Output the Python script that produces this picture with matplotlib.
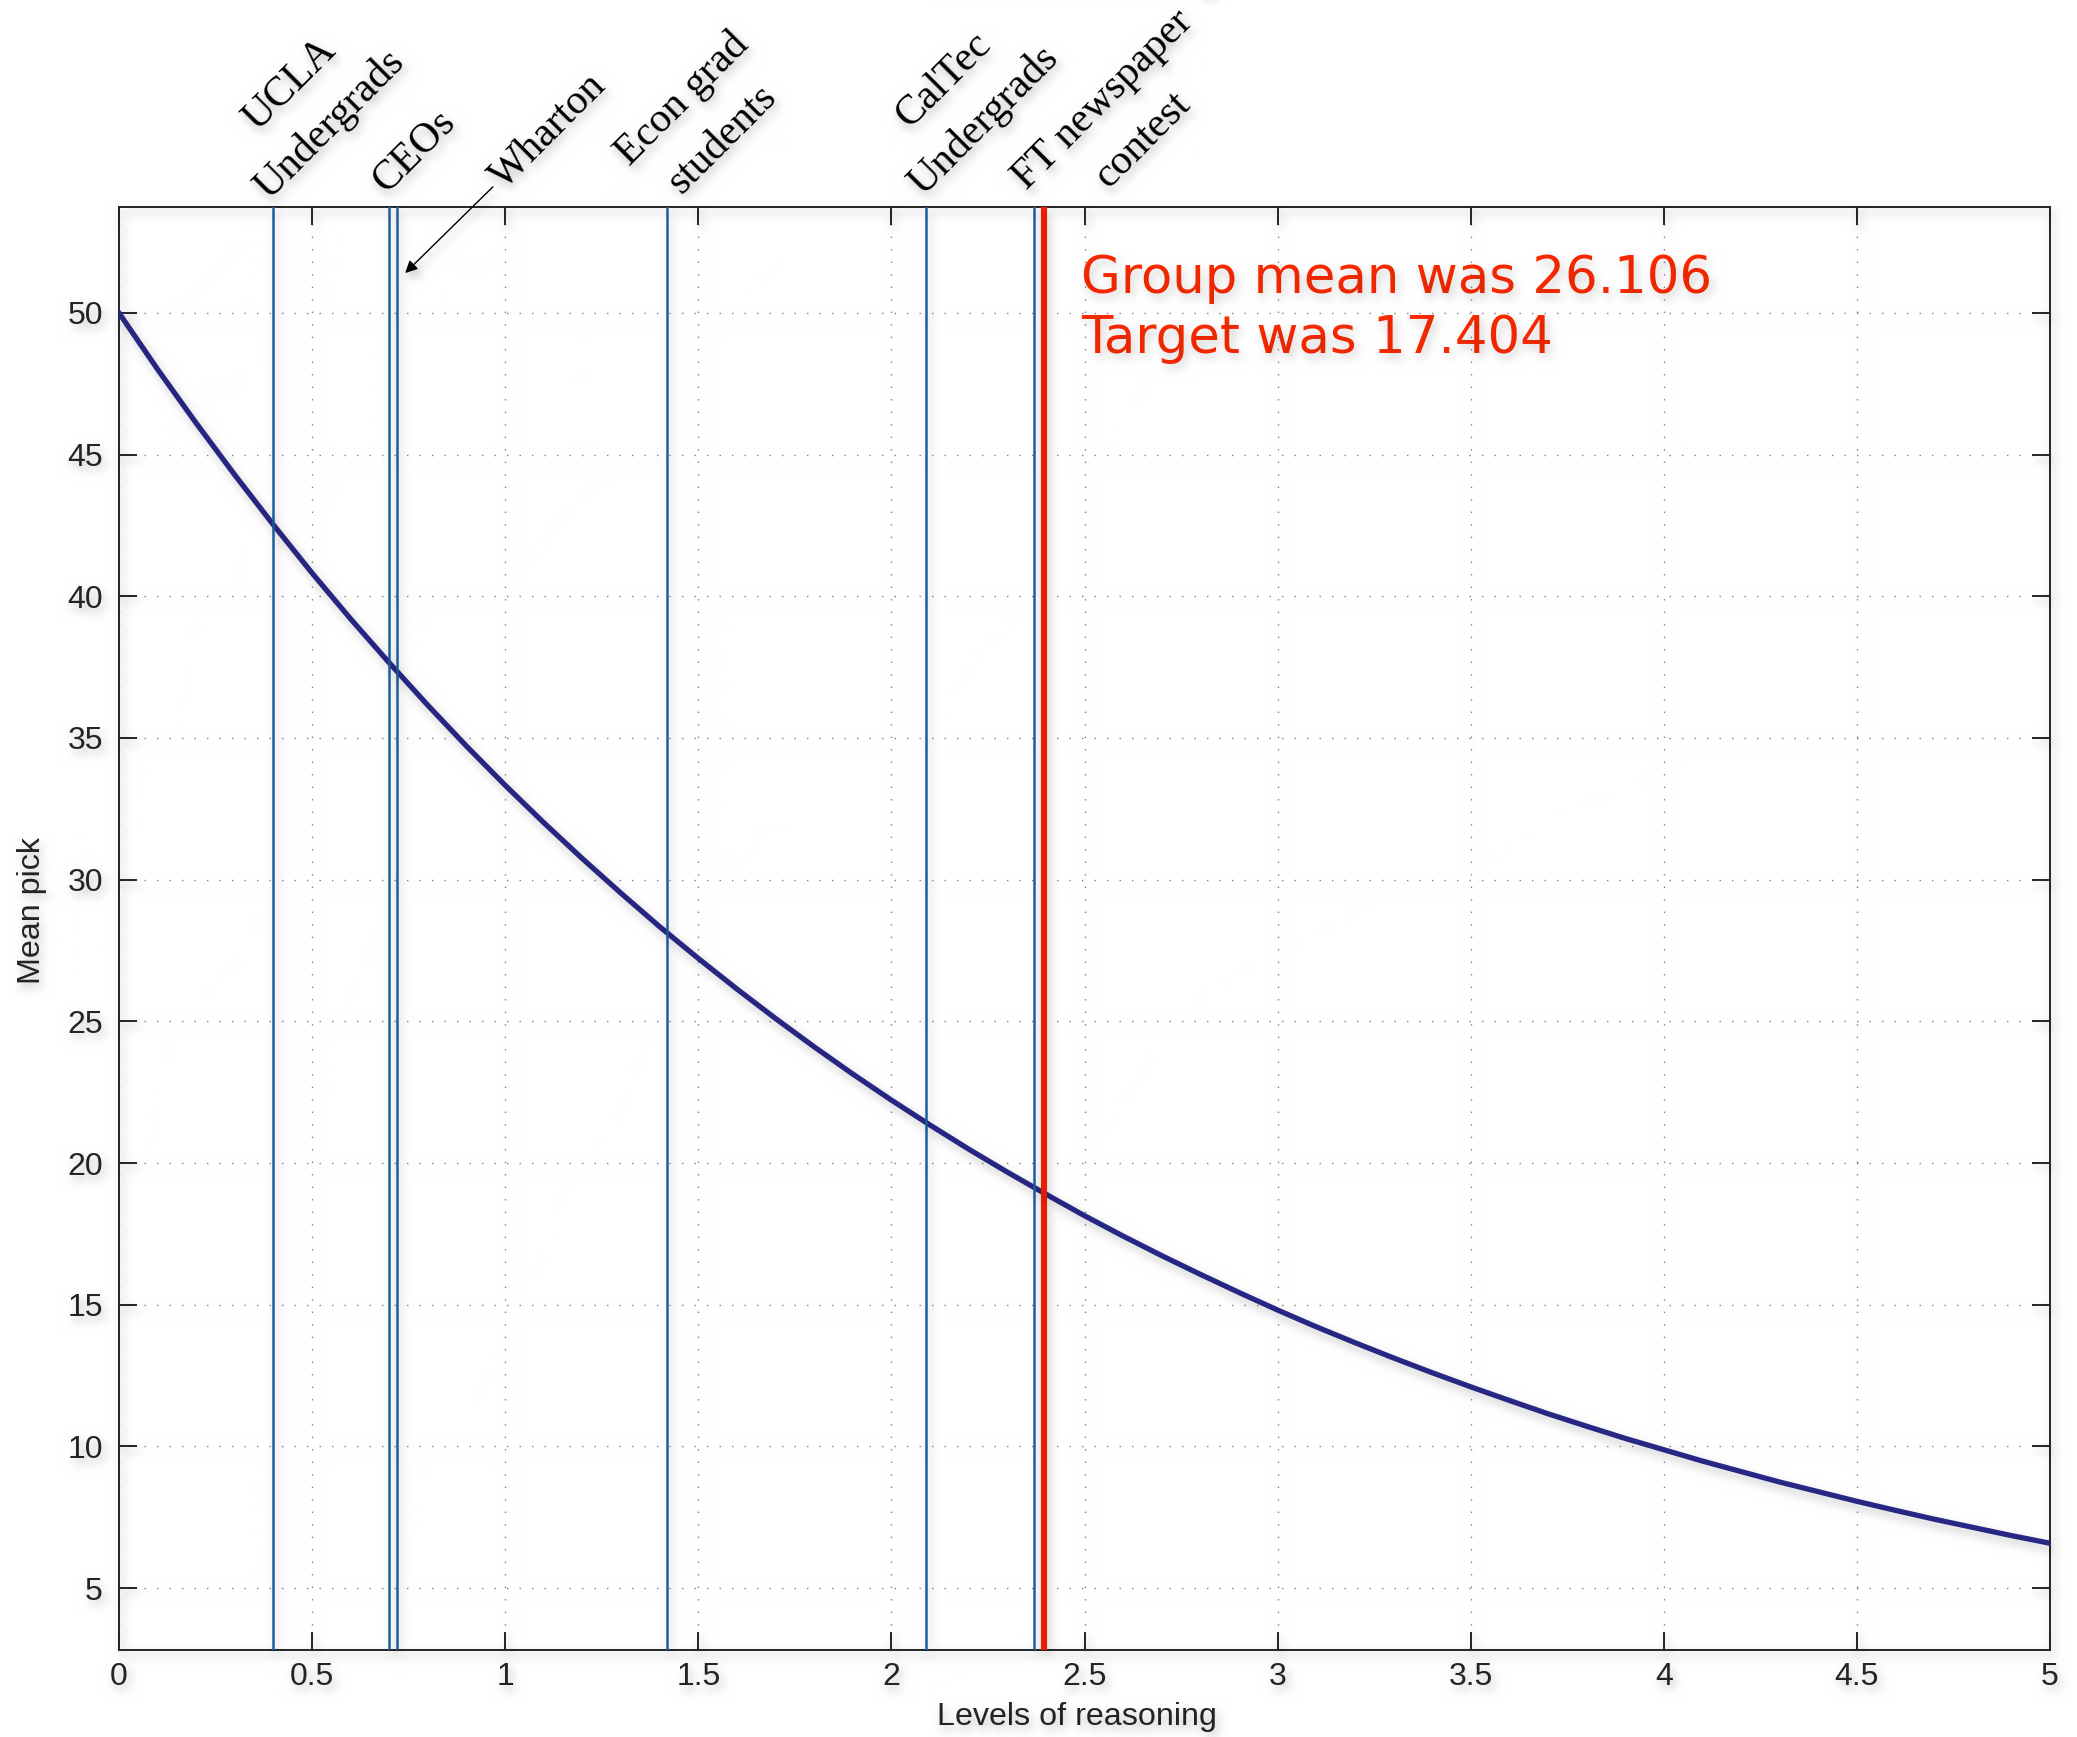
import numpy as np
import matplotlib
matplotlib.use("Agg")
import matplotlib.pyplot as plt

# mean pick after k levels of reasoning, every 0.1
levels = [i / 10 for i in range(51)]
mean_pick = [50.00, 48.01, 46.11, 44.28, 42.52, 40.82, 39.20, 37.65, 36.15, 34.71,
             33.33, 32.01, 30.74, 29.52, 28.34, 27.22, 26.14, 25.10, 24.10, 23.14,
             22.22, 21.34, 20.49, 19.68, 18.90, 18.14, 17.42, 16.73, 16.07, 15.43,
             14.81, 14.22, 13.66, 13.12, 12.60, 12.10, 11.62, 11.15, 10.71, 10.28,
             9.88, 9.48, 9.11, 8.74, 8.40, 8.06, 7.74, 7.43, 7.14, 6.85,
             6.58]

# estimated reasoning level of each group
groups = ["UCLA\nUndergrads", "CEOs", "Wharton", "Econ grad\nstudents",
          "CalTec\nUndergrads", "FT newspaper\ncontest"]
group_levels = [0.40, 0.70, 0.72, 1.42, 2.09, 2.37]

# this class
class_level = 2.395
group_mean = 26.106
target = 17.404

xticks = [0, 0.5, 1, 1.5, 2, 2.5, 3, 3.5, 4, 4.5, 5]
xticklabels = ["0", "0.5", "1", "1.5", "2", "2.5", "3", "3.5", "4", "4.5", "5"]
yticks = [5, 10, 15, 20, 25, 30, 35, 40, 45, 50]

# label anchors in pixels from the top of each line
# (left edge of the block, baseline of its last line)
label_offsets = [(-17, 19), (-3, 13), (107, 16), (-11, 13), (-16, 23), (20, -11)]

W, H, DPI = 2077, 1737, 200
ink = "#262626"

fig = plt.figure(figsize=(W / DPI, H / DPI), dpi=DPI)
ax = fig.add_axes([119 / W, 1 - 1650 / H, (2050 - 119) / W, (1650 - 207) / H])

ax.plot(levels, mean_pick, color="#2a2a8e", lw=1.9, zorder=3)
for x in group_levels:
    ax.axvline(x, color="#1f62a8", lw=0.9, zorder=4)
ax.axvline(class_level, color="#ff2200", lw=2.2, zorder=5)

ax.set_xlim(0, 5)
ax.set_ylim(2.812, 53.741)
ax.set_xticks(xticks)
ax.set_xticklabels(xticklabels)
ax.set_yticks(yticks)
ax.grid(True, color="#808080", lw=0.5, linestyle=(0, (1, 8)))
ax.set_axisbelow(True)
ax.tick_params(direction="in", length=6.5, width=0.7, colors=ink,
               top=True, right=True, labelsize=11.5)
ax.tick_params(axis="y", pad=5.8)
ax.tick_params(axis="x", pad=4.3)
for lab in ax.get_xticklabels() + ax.get_yticklabels():
    lab.set_family("Liberation Sans")
for s in ax.spines.values():
    s.set_color(ink)
    s.set_linewidth(0.7)

fig.text(1077 / W, 1 - 1717 / H, "Levels of reasoning", ha="center", va="center",
         fontsize=11.6, family="Liberation Sans", color=ink)
fig.text(32.5 / W, 1 - 910 / H, "Mean pick", rotation=90, ha="center", va="center",
         fontsize=11.6, family="Liberation Sans", color=ink)

# slanted group names above the plot
for name, x, (dx, dy) in zip(groups, group_levels, label_offsets):
    ax.annotate(name, xy=(x, 1), xycoords=("data", "axes fraction"),
                xytext=(dx, dy), textcoords="offset pixels",
                rotation=45, rotation_mode="anchor", ha="left", va="baseline",
                multialignment="center", linespacing=1.6, fontsize=15,
                family="Liberation Serif", color="black", annotation_clip=False)

# arrow pointing Wharton at its line
ax.annotate("", xy=(0.741, 51.41), xytext=(0.968, 54.45),
            arrowprops=dict(arrowstyle="-|>", color="black", lw=0.5,
                            mutation_scale=9, shrinkA=0, shrinkB=0),
            annotation_clip=False)

ax.text(2.49, 48.59, f"Group mean was {group_mean}\nTarget was {target}",
        color="#ff2a00", fontsize=18.5, family="DejaVu Sans",
        ha="left", va="baseline", linespacing=1.26, zorder=6)

# soft drop shadow under everything drawn
fig.canvas.draw()
rgb = np.asarray(fig.canvas.buffer_rgba())[..., :3].astype(float) / 255


def box_blur(a, r):
    k = 2 * r + 1
    p = np.pad(a, r, mode="edge")
    c = np.cumsum(np.cumsum(p, axis=0), axis=1)
    c = np.pad(c, ((1, 0), (1, 0)))
    return (c[k:, k:] - c[:-k, k:] - c[k:, :-k] + c[:-k, :-k]) / (k * k)


dark = 1 - rgb.mean(axis=2)
shadow = dark
for _ in range(3):
    shadow = box_blur(shadow, 4)
shadow = np.roll(np.roll(shadow, 5, axis=0), 3, axis=1)
out = rgb * (1 - 0.3 * shadow[..., None])
plt.imsave("out.png", np.clip(out, 0, 1))
